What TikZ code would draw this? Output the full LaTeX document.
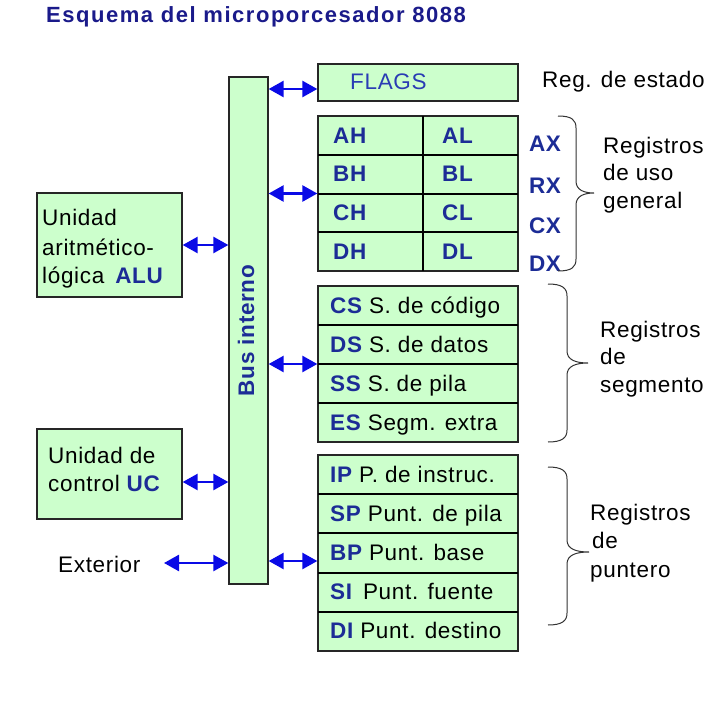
\documentclass[tikz,border=0pt]{standalone}
\usepackage{fontspec}
\setmainfont{Liberation Sans}[LetterSpace=3]
\newfontfamily\titlefont{Liberation Sans}[LetterSpace=7]
\usetikzlibrary{arrows.meta}
\definecolor{boxgreen}{HTML}{CCFFCC}
\definecolor{lblblue}{HTML}{1C2C96}
\definecolor{titleblue}{HTML}{1A1A8A}
\definecolor{arrblue}{HTML}{0A0AE6}
\definecolor{flagblue}{HTML}{2A3CB4}
\newcommand{\bl}[1]{{\color{lblblue}\bfseries #1}}
\begin{document}
\begin{tikzpicture}[x=1pt,y=-1pt,
  box/.style={draw=black!85, line width=1.3pt, fill=boxgreen, inner sep=0pt},
  txt/.style={anchor=base west, inner sep=0pt, font=\fontsize{22.5}{28}\selectfont},
  lbl/.style={txt, text=lblblue, font=\fontsize{22.5}{28}\selectfont\bfseries},
  biarrow/.style={draw=arrblue, line width=2.5pt, {Triangle[length=15pt,width=16pt]}-{Triangle[length=15pt,width=16pt]}},
  sep/.style={line width=2pt, draw=black},
  brc/.style={line width=1pt, draw=black!80}]
\useasboundingbox (0,0) rectangle (724,720);

% title
\node[anchor=base west, inner sep=0pt, text=titleblue, font=\titlefont\bfseries\fontsize{22}{24}\selectfont] (title) at (46,22) {Esquema del microporcesador 8088};

% bus
\node[box, minimum width=39pt, minimum height=507pt] (bus) at (248.5,330.5) {};
\node[lbl, anchor=center, rotate=90] (bustxt) at (246,330.5) {Bus interno};

% flags
\node[box, minimum width=200pt, minimum height=37pt] (flags) at (418,82.5) {};
\node[txt, text=flagblue] (flagst) at (350,89) {FLAGS};
\node[txt] (estado) at (542,87.5) {Reg. de estado};

% general registers
\node[box, minimum width=200pt, minimum height=155pt] (gen) at (418,193.5) {};
\draw[sep] (318,154.75) -- (518,154.75);
\draw[sep] (318,193.5) -- (518,193.5);
\draw[sep] (318,232.25) -- (518,232.25);
\draw[sep] (423,116) -- (423,271);
\node[lbl] (ah) at (333,143) {AH};
\node[lbl] (al) at (442,143) {AL};
\node[lbl] (bh) at (333,181.5) {BH};
\node[lbl] (bl) at (442,181.5) {BL};
\node[lbl] (ch) at (333,220.5) {CH};
\node[lbl] (cl) at (442,220.5) {CL};
\node[lbl] (dh) at (333,259.5) {DH};
\node[lbl] (dl) at (442,259.5) {DL};
\node[lbl, anchor=base] (ax) at (545,151) {AX};
\node[lbl, anchor=base] (bx) at (545,193) {RX};
\node[lbl, anchor=base] (cx) at (545,233) {CX};
\node[lbl, anchor=base] (dx) at (545,271) {DX};
\draw[brc] (558,116) .. controls (572,116) and (576,120) .. (576,128) -- (576,181) .. controls (576,190) and (584,193) .. (594,193) .. controls (584,193) and (576,196) .. (576,205) -- (576,259) .. controls (576,267) and (572,271) .. (558,271);
\node[txt] (rg1) at (603,153) {Registros};
\node[txt] (rg2) at (603,180.5) {de uso};
\node[txt] (rg3) at (603,208) {general};

% segment registers
\node[box, minimum width=200pt, minimum height=156pt] (seg) at (418,364) {};
\draw[sep] (318,325) -- (518,325);
\draw[sep] (318,364) -- (518,364);
\draw[sep] (318,403) -- (518,403);
\node[txt] (cs) at (330,313) {\bl{CS} S. de código};
\node[txt] (ds) at (330,352) {\bl{DS} S. de datos};
\node[txt] (ss) at (330,391) {\bl{SS} S. de pila};
\node[txt] (es) at (330,430) {\bl{ES} Segm. extra};
\draw[brc] (548,284) .. controls (562,284) and (567,288) .. (567,296) -- (567,351) .. controls (567,360) and (576,363) .. (588,363) .. controls (576,363) and (567,366) .. (567,375) -- (567,430) .. controls (567,438) and (562,442) .. (548,442);
\node[txt] (rs1) at (600,337) {Registros};
\node[txt] (rs2) at (600,364.5) {de};
\node[txt] (rs3) at (600,392) {segmento};

% pointer registers
\node[box, minimum width=200pt, minimum height=196pt] (ptr) at (418,553) {};
\draw[sep] (318,494.2) -- (518,494.2);
\draw[sep] (318,533.4) -- (518,533.4);
\draw[sep] (318,572.6) -- (518,572.6);
\draw[sep] (318,611.8) -- (518,611.8);
\node[txt] (ip) at (330,482) {\bl{IP} P. de instruc.};
\node[txt] (sp) at (330,521) {\bl{SP} Punt. de pila};
\node[txt] (bp) at (330,560.5) {\bl{BP} Punt. base};
\node[txt] (si) at (330,599.5) {\bl{SI}\hspace{4pt} Punt. fuente};
\node[txt] (di) at (330,638.5) {\bl{DI} Punt. destino};
\draw[brc] (548,467) .. controls (562,467) and (567,471) .. (567,479) -- (567,540) .. controls (567,549) and (576,552) .. (589,552) .. controls (576,552) and (567,555) .. (567,564) -- (567,613) .. controls (567,621) and (562,625) .. (548,625);
\node[txt] (rp1) at (590,520) {Registros};
\node[txt] (rp2) at (592,548) {de};
\node[txt] (rp3) at (590,577) {puntero};

% ALU
\node[box, minimum width=145pt, minimum height=104pt] (alu) at (109.5,245) {};
\node[txt] (alu1) at (42,225) {Unidad};
\node[txt] (alu2) at (42,255) {aritmético-};
\node[txt] (alu3) at (42,283) {lógica\hspace{4pt} \bl{ALU}};

% UC
\node[box, minimum width=145pt, minimum height=90pt] (uc) at (109.5,474) {};
\node[txt] (uc1) at (48,463) {Unidad de};
\node[txt] (uc2) at (48,491) {control \bl{UC}};

% Exterior
\node[txt] (ext) at (58,572) {Exterior};
\coordinate (extend) at (164,563);

% arrow levels
\coordinate (yflags) at (0,89);
\coordinate (yuc) at (0,482);
\coordinate (yptr) at (0,561);

% connectors
\draw[biarrow] (bus.east |- yflags) -- (flags.west |- yflags);
\draw[biarrow] (bus.east |- gen.west) -- (gen.west);
\draw[biarrow] (bus.east |- seg.west) -- (seg.west);
\draw[biarrow] (bus.east |- yptr) -- (ptr.west |- yptr);
\draw[biarrow] (alu.east) -- (alu.east -| bus.west);
\draw[biarrow] (uc.east |- yuc) -- (bus.west |- yuc);
\draw[biarrow] (extend) -- (extend -| bus.west);
\end{tikzpicture}
\end{document}
